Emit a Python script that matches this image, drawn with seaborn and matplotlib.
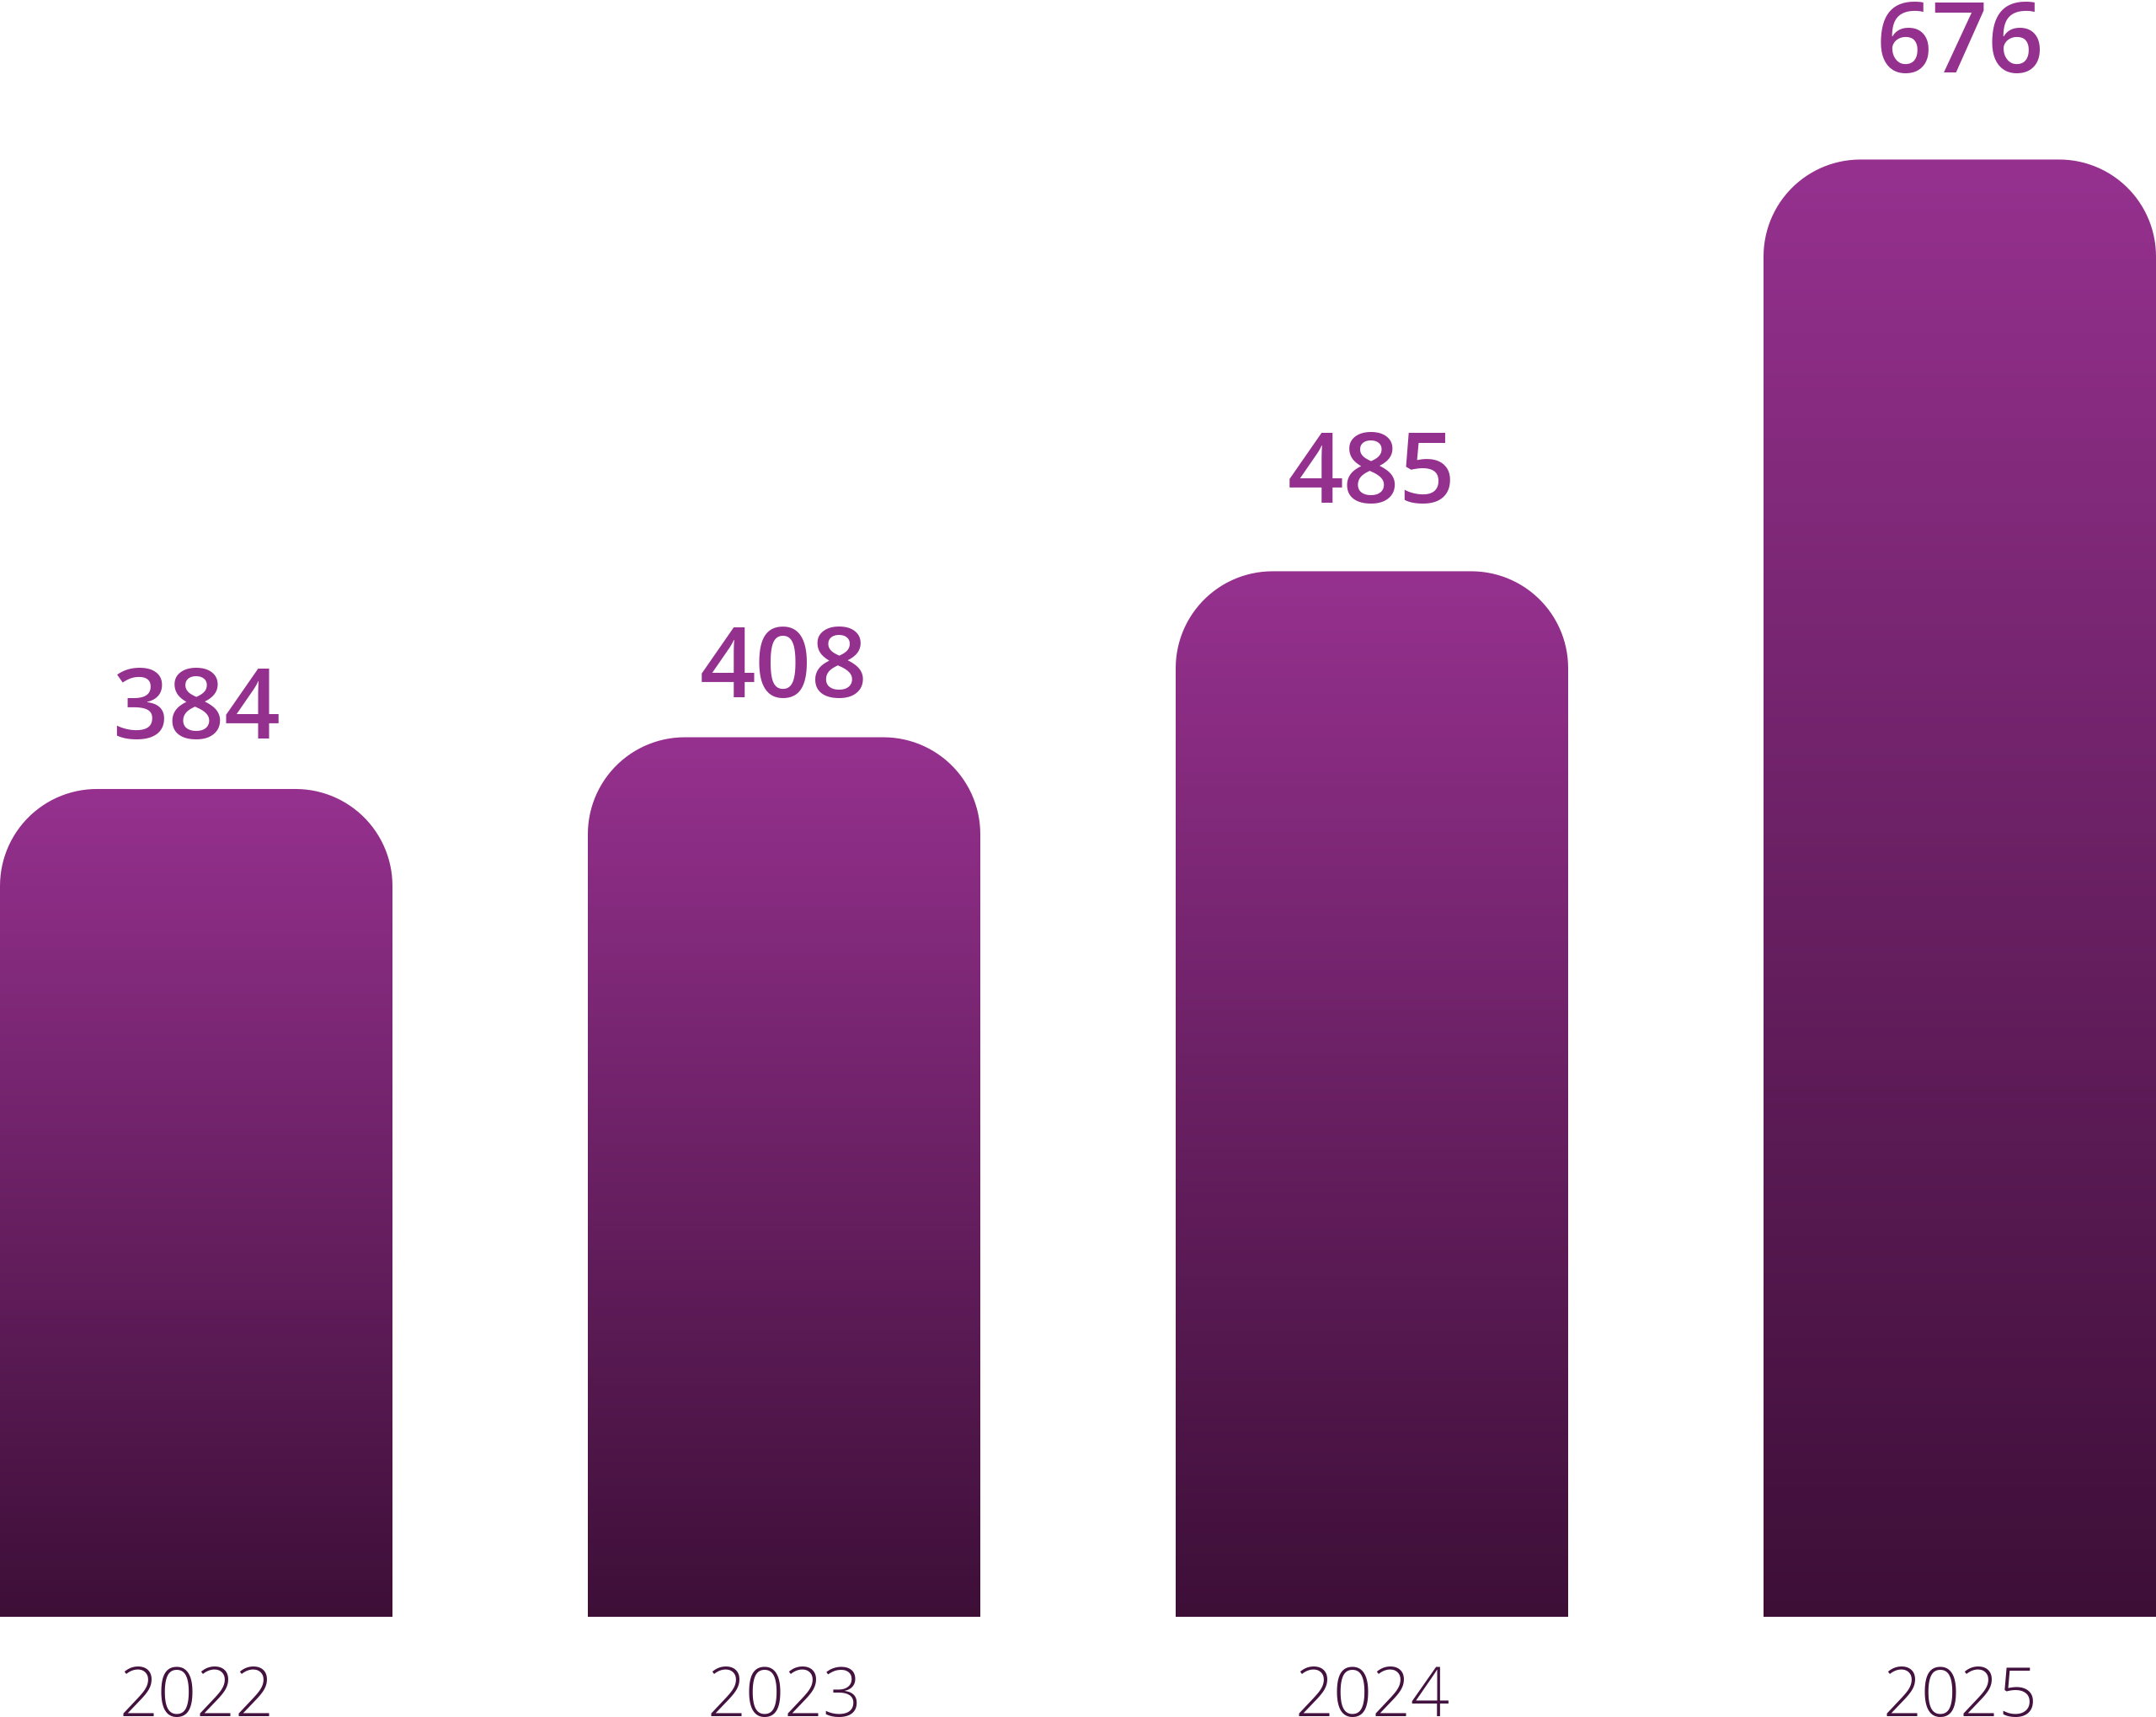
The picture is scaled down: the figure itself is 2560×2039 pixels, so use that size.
import numpy as np
import pandas as pd
import matplotlib
matplotlib.use("Agg")
import matplotlib.pyplot as plt
from matplotlib.path import Path
from matplotlib.patches import PathPatch
from matplotlib.colors import to_rgb
import seaborn as sns

# ---- data ----
years = ["2022", "2023", "2024", "2025"]
values = [384, 408, 485, 676]

# ---- style ----
TOP_COLOR = "#96318F"
BOTTOM_COLOR = "#3D0F37"
LABEL_COLOR = "#94318F"
YEAR_COLOR = "#43123E"
label_gap_px = [60, 48, 81, 103]
CORNER_PX = 115

W_PX, H_PX, DPI = 2560, 2039, 100
sns.set_theme(style="white")
plt.rcParams["font.family"] = ["Open Sans", "DejaVu Sans"]

fig = plt.figure(figsize=(W_PX / DPI, H_PX / DPI), dpi=DPI)
fig.patch.set_facecolor("white")
ax = fig.add_axes([0, 119 / H_PX, 1, 1920 / H_PX])

df = pd.DataFrame({"year": years, "value": values})
bar_w = W_PX / 698 - 3
sns.barplot(data=df, x="year", y="value", width=bar_w, color=TOP_COLOR, ax=ax)

ax.set_xlim(-bar_w / 2, 3 + bar_w / 2)
ax.set_ylim(0, 750)
ax.axis("off")

# pixel -> data scale
px_per_x = W_PX / (3 + bar_w)
px_per_y = 1920 / 750
rx = CORNER_PX / px_per_x
ry = CORNER_PX / px_per_y

top_rgb = np.array(to_rgb(TOP_COLOR))
bot_rgb = np.array(to_rgb(BOTTOM_COLOR))
t = np.linspace(0, 1, 512)[:, None]
grad = (top_rgb[None, :] * (1 - t) + bot_rgb[None, :] * t)[:, None, :]

for i, p in enumerate(list(ax.patches)):
    x0, w, h = p.get_x(), p.get_width(), p.get_height()
    x1 = x0 + w
    p.set_visible(False)
    # rounded-top path
    ang = np.linspace(0, np.pi / 2, 30)
    verts = [(x0, 0), (x1, 0)]
    cx, cy = x1 - rx, h - ry
    verts += [(cx + rx * np.cos(a), cy + ry * np.sin(a)) for a in ang]
    cx = x0 + rx
    verts += [(cx + rx * np.cos(a), cy + ry * np.sin(a)) for a in ang + np.pi / 2]
    verts += [(x0, 0)]
    codes = [Path.MOVETO] + [Path.LINETO] * (len(verts) - 2) + [Path.CLOSEPOLY]
    path = Path(verts, codes)
    clip = PathPatch(path, facecolor="none", edgecolor="none", transform=ax.transData)
    ax.add_patch(clip)
    im = ax.imshow(grad, extent=(x0, x1, 0, h), aspect="auto", origin="upper",
                   interpolation="bilinear", zorder=2)
    im.set_clip_path(clip)

    cxm = x0 + w / 2
    ax.annotate(f"{values[i]}", xy=(cxm, h), xytext=(0, label_gap_px[i]),
                textcoords="offset pixels", ha="center", va="baseline",
                fontsize=84, fontweight="semibold", color=LABEL_COLOR,
                annotation_clip=False)
    ax.annotate(years[i], xy=(cxm, 0), xytext=(0, -118),
                textcoords="offset pixels", ha="center", va="baseline",
                fontsize=58, fontweight="light", color=YEAR_COLOR,
                annotation_clip=False)

ax.set_xlim(-bar_w / 2, 3 + bar_w / 2)
ax.set_ylim(0, 750)
fig.savefig("out.png", dpi=DPI, facecolor="white")
